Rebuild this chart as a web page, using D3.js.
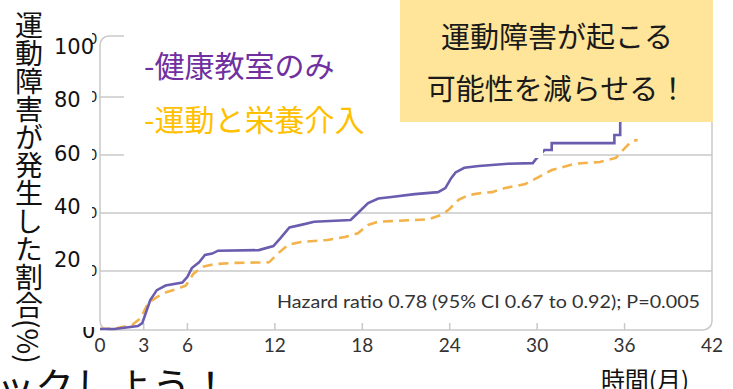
<!DOCTYPE html>
<html>
<head>
<meta charset="utf-8">
<script src="https://cdn.jsdelivr.net/npm/d3@7"></script>
<style>
  body { margin: 0; background: #fff; }
  svg { display: block; }
</style>
</head>
<body>
<div id="graf"></div>
<script>
// months / cumulative %
const mesesPurpura = [0, 1, 2.6, 2.9, 3.45, 3.9, 4.5, 5.65, 6.0, 6.3, 6.8, 7.2, 7.7, 8.1, 10.9, 11.9, 12.4, 13.0, 13.8, 14.7, 17.2, 17.7, 18.4, 19.1, 20, 21.6, 23.2, 23.7, 24.1, 24.4, 25, 26, 28, 29.7, 29.9, 30.5, 31.0, 31.0, 35.3, 35.3, 35.7, 35.7, 35.9]
const valPurpura = [0, 0, 1, 2, 10, 13.4, 15, 16, 18, 21, 23, 25.5, 26, 27, 27.2, 28.6, 31.4, 35, 35.9, 37, 37.6, 40, 43.4, 45, 45.5, 46.5, 47.2, 48.6, 52, 54, 55.6, 56.2, 57, 57.2, 58.5, 61.7, 61.7, 64.1, 64.1, 66.9, 66.9, 71, 78]

const mesesNaranja = [0, 1.2, 2.2, 2.8, 3.3, 3.9, 4.6, 5.4, 5.9, 6.4, 7, 7.9, 9.3, 11.6, 12.2, 12.9, 13.8, 15.6, 16.8, 17.7, 18.4, 19.1, 20, 22.5, 23.4, 23.9, 24.6, 25.3, 26.2, 26.9, 27.8, 29.2, 30.1, 31, 32.6, 34.3, 35.4, 35.7, 36.1, 36.5, 36.9]
const valNaranja = [0, 0.3, 1.4, 3.8, 9, 11, 12.8, 14, 15, 19, 21.4, 22.4, 22.8, 23, 26, 29, 30, 30.7, 31.7, 33, 35.9, 37, 37.2, 37.8, 39.3, 41, 44.5, 46.2, 46.9, 47.2, 48.6, 50, 52.4, 54.8, 57, 57.6, 59, 60.7, 62.8, 64.8, 65.2]

const ticksX = [3, 6, 12, 18, 24, 30, 36]
const etiquetasX = [0, 3, 6, 12, 18, 24, 30, 36, 42]
const lineasY = [20, 40, 60, 80]
const etiquetasY = [100, 80, 60, 40, 20]

const tituloY = '運動障害が発生した割合(%)'
const tituloX = '時間(月)'
const leyenda = ['-健康教室のみ', '-運動と栄養介入']
const cartel = ['運動障害が起こる', '可能性を減らせる！']
const hazard = 'Hazard ratio 0.78 (95% CI 0.67 to 0.92); P=0.005'
const abajo = 'ェックしよう！'

const anchoTotal = 733
const altoTotal = 389

const svg = d3.select('#graf')
  .append('svg')
  .attr('width', anchoTotal)
  .attr('height', altoTotal)

const x = d3.scaleLinear().domain([0, 42]).range([100, 712])
const y = d3.scaleLinear().domain([0, 100]).range([329, 39])
// the big overlaid y labels sit a bit off the grid
const yLab = d3.scaleLinear().domain([20, 100]).range([260, 47])

const gris = '#c9c9c9'
const cjk = '"Noto Sans CJK JP", sans-serif'

// grid
svg.selectAll('.grid')
  .data(lineasY)
  .enter()
  .append('line')
  .attr('x1', x(0))
  .attr('x2', x(42))
  .attr('y1', d => y(d))
  .attr('y2', d => y(d))
  .attr('stroke', gris)
  .attr('stroke-width', 1.5)

// frame
svg.append('rect')
  .attr('x', x(0))
  .attr('y', y(100) - 3)
  .attr('width', x(42) - x(0))
  .attr('height', y(0) - y(100) + 4)
  .attr('rx', 9)
  .attr('fill', 'none')
  .attr('stroke', gris)
  .attr('stroke-width', 1.5)

svg.selectAll('.tick')
  .data(ticksX)
  .enter()
  .append('line')
  .attr('x1', d => x(d))
  .attr('x2', d => x(d))
  .attr('y1', y(0) + 1)
  .attr('y2', y(0) - 6)
  .attr('stroke', gris)
  .attr('stroke-width', 1.5)

svg.selectAll('.lblx')
  .data(etiquetasX)
  .enter()
  .append('text')
  .attr('x', d => x(d))
  .attr('y', 352)
  .attr('text-anchor', 'middle')
  .attr('font-family', 'Lato, sans-serif')
  .attr('font-size', 19)
  .attr('fill', '#333')
  .text(d => d)

svg.append('text')
  .attr('x', 277)
  .attr('y', 308)
  .attr('font-family', 'Lato, sans-serif')
  .attr('font-size', 17.5)
  .attr('fill', '#333')
  .attr('textLength', 423)
  .attr('lengthAdjust', 'spacingAndGlyphs')
  .text(hazard)

// curves
const linea = d3.line()
  .x(d => x(d[0]))
  .y(d => y(d[1]))

svg.append('path')
  .datum(mesesNaranja.map((m, i) => [m, valNaranja[i]]))
  .attr('d', linea)
  .attr('fill', 'none')
  .attr('stroke', '#f4b24a')
  .attr('stroke-width', 2.6)
  .attr('stroke-dasharray', '10,6')

svg.append('path')
  .datum(mesesPurpura.map((m, i) => [m, valPurpura[i]]))
  .attr('d', linea)
  .attr('fill', 'none')
  .attr('stroke', '#6a5cae')
  .attr('stroke-width', 2.6)

// white patch behind legend
svg.append('rect')
  .attr('x', 124)
  .attr('y', 0)
  .attr('width', 543 - 124)
  .attr('height', 158)
  .attr('fill', '#fff')

svg.selectAll('.ley')
  .data(leyenda)
  .enter()
  .append('text')
  .attr('x', 144)
  .attr('y', (d, i) => 64 + i * 54)
  .attr('dominant-baseline', 'central')
  .attr('font-family', cjk)
  .attr('font-size', 30)
  .attr('fill', (d, i) => i === 0 ? '#7030a0' : '#ffc000')
  .text(d => d)

// yellow note
svg.append('rect')
  .attr('x', 400)
  .attr('y', 0)
  .attr('width', 313)
  .attr('height', 122)
  .attr('fill', '#fee599')

svg.selectAll('.cartel')
  .data(cartel)
  .enter()
  .append('text')
  .attr('x', 557)
  .attr('y', (d, i) => 35 + i * 52)
  .attr('text-anchor', 'middle')
  .attr('dominant-baseline', 'central')
  .attr('font-family', cjk)
  .attr('font-size', 29)
  .attr('fill', '#1a1a1a')
  .text(d => d)

// leftover fragments of the original tick labels
svg.append('clipPath')
  .attr('id', 'frag')
  .append('rect')
  .attr('x', 92)
  .attr('y', 0)
  .attr('width', 6)
  .attr('height', 389)

svg.selectAll('.frag')
  .data(etiquetasY)
  .enter()
  .append('text')
  .attr('clip-path', 'url(#frag)')
  .attr('x', 97)
  .attr('y', d => y(d) + 5)
  .attr('text-anchor', 'end')
  .attr('font-family', 'Lato, sans-serif')
  .attr('font-size', 15)
  .attr('fill', '#222')
  .text(d => d)

svg.selectAll('.lbly')
  .data(etiquetasY)
  .enter()
  .append('text')
  .attr('x', 54)
  .attr('y', d => yLab(d))
  .attr('dominant-baseline', 'central')
  .attr('font-family', '"DejaVu Sans", sans-serif')
  .attr('font-size', 21)
  .attr('fill', '#111')
  .text(d => d)

svg.append('clipPath')
  .attr('id', 'cero')
  .append('rect')
  .attr('x', 70)
  .attr('y', 327)
  .attr('width', 30)
  .attr('height', 20)

svg.append('text')
  .attr('clip-path', 'url(#cero)')
  .attr('x', 82)
  .attr('y', 331)
  .attr('dominant-baseline', 'central')
  .attr('font-family', '"DejaVu Sans", sans-serif')
  .attr('font-size', 21)
  .attr('fill', '#111')
  .text(0)

// titles
svg.append('text')
  .attr('x', 29)
  .attr('y', 11)
  .attr('writing-mode', 'vertical-rl')
  .attr('font-family', cjk)
  .attr('font-size', 28)
  .attr('fill', '#111')
  .text(tituloY)

svg.append('text')
  .attr('x', 645)
  .attr('y', 389)
  .attr('text-anchor', 'middle')
  .attr('font-family', cjk)
  .attr('font-size', 24)
  .attr('fill', '#111')
  .text(tituloX)

svg.append('text')
  .attr('x', 230)
  .attr('y', 401)
  .attr('text-anchor', 'end')
  .attr('font-family', cjk)
  .attr('font-size', 39)
  .attr('fill', '#111')
  .text(abajo)
</script>
</body>
</html>
